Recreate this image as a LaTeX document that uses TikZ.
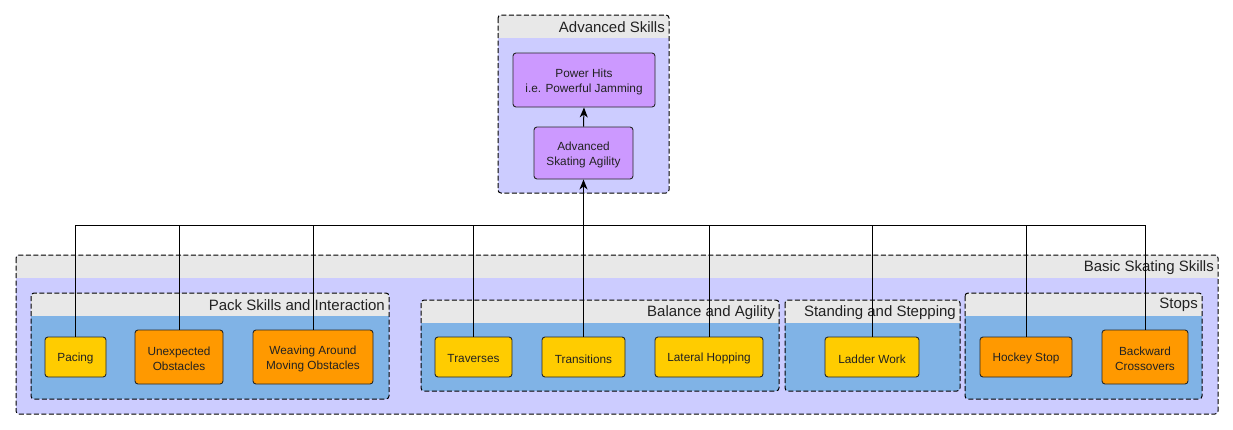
\documentclass[tikz,border=0pt]{standalone}
\usepackage{fontspec}
\setmainfont{Liberation Sans}
\usetikzlibrary{arrows.meta}
\definecolor{lav}{HTML}{CCCCFF}
\definecolor{hdr}{HTML}{E8E8E8}
\definecolor{sub}{HTML}{80B3E6}
\definecolor{purp}{HTML}{CC99FF}
\definecolor{yel}{HTML}{FFCC00}
\definecolor{ora}{HTML}{FF9900}
\definecolor{txt}{HTML}{222222}
\tikzset{
  skill/.style={draw=black!85, line width=0.9pt, rounded corners=3pt, align=center,
    text=txt, inner sep=2pt, font=\fontsize{11.8}{14.6}\selectfont},
  skillY/.style={skill, fill=yel},
  skillO/.style={skill, fill=ora},
  skillP/.style={skill, fill=purp},
  grpborder/.style={draw=black, line width=1pt, dash pattern=on 5pt off 2.5pt, rounded corners=3pt},
  grptitle/.style={font=\fontsize{15}{17}\selectfont, text=txt, inner sep=0pt},
  link/.style={draw=black, line width=1pt},
  tip/.style={-{Stealth[length=10pt,width=8pt,inset=3pt]}},
}
\newcommand\grp[8]{%
  \begin{scope}
    \clip[rounded corners=3pt] (#1,#2) rectangle (#3,#4);
    \fill[#6] (#1,#2) rectangle (#3,#4);
    \fill[hdr] (#1,#2) rectangle (#3,#5);
  \end{scope}
  \draw[grpborder] (#1,#2) rectangle (#3,#4);
  \node[grptitle, anchor=east] (#8) at (#3-4, {(#2+#5)/2+0.8}) {#7};
}
% skill box: style, name, x, y, width, height, text
\newcommand\sk[7]{%
  \node[#1, minimum width=#5pt, minimum height=#6pt] (#2) at (#3,#4) {};
  \node[#1, draw=none, fill=none] at ([yshift=-1.8pt]#2.center) {#7};
}
\begin{document}
\begin{tikzpicture}[x=1pt, y=-1pt]
\useasboundingbox (0,0) rectangle (1233,429);
\fill[white] (0,0) rectangle (1233,429);

% containers
\grp{498}{15}{669}{193}{38}{lav}{Advanced Skills}{tAdv}
\grp{16}{255}{1218}{414}{278}{lav}{Basic Skating Skills}{tBasic}
\grp{31}{293}{389}{399}{316}{sub}{Pack Skills and Interaction}{tPack}
\grp{421}{300}{779}{391}{323}{sub}{Balance and Agility}{tBal}
\grp{785}{300}{960}{391}{323}{sub}{Standing and Stepping}{tStand}
\grp{965}{293}{1202}{399}{316}{sub}{Stops}{tStops}

% nodes
\sk{skillP}{power}{584}{80}{142}{54}{Power Hits\\i.e. Powerful Jamming}
\sk{skillP}{adv}{583.5}{153}{99}{52}{Advanced\\Skating Agility}

\sk{skillY}{pacing}{75.5}{357}{61}{40}{Pacing}
\sk{skillO}{unexp}{179}{357}{88}{54}{Unexpected\\Obstacles}
\sk{skillO}{weave}{313}{357}{120}{54}{Weaving Around\\Moving Obstacles}

\sk{skillY}{trav}{473.5}{357}{77}{40}{Traverses}
\sk{skillY}{trans}{583.5}{357}{83}{40}{Transitions}
\sk{skillY}{lat}{709}{357}{108}{40}{Lateral Hopping}

\sk{skillY}{ladder}{872}{357}{94}{40}{Ladder Work}

\sk{skillO}{hockey}{1026}{357}{92}{40}{Hockey Stop}
\sk{skillO}{back}{1145}{357}{86}{54}{Backward\\Crossovers}

% connectors
\coordinate (bus) at (583.5,225);
\foreach \n in {pacing,unexp,weave,trav,lat,ladder,hockey,back}
  \draw[link] (\n.north) |- (bus);
\draw[link, tip] (trans.north) -- (adv.south);
\draw[link, tip] (adv.north) -- (power.south);
\end{tikzpicture}
\end{document}
